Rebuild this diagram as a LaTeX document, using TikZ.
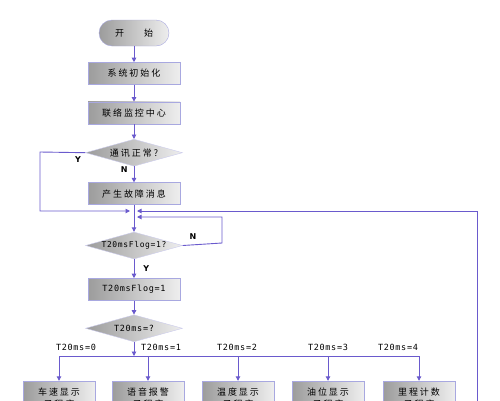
\documentclass[tikz,border=0pt]{standalone}
\usepackage{fontspec}
\setmainfont{DejaVu Sans}
\newfontfamily\cjk[LetterSpace=22]{Noto Sans CJK SC}
\newfontfamily\monof[LetterSpace=8]{DejaVu Sans Mono}
\usetikzlibrary{
  arrows.meta,
  positioning,
  shapes.geometric
}
\definecolor{flowline}{HTML}{6A5ACD}
\definecolor{boxedge}{HTML}{A8A8E0}
\definecolor{shadedark}{HTML}{9C9C9C}
\definecolor{shadelight}{HTML}{EEEEEE}
\tikzset{
  procbox/.style={
    rectangle, draw=boxedge, left color=shadedark, right color=shadelight,
    minimum width=92pt, minimum height=22pt, inner sep=0pt,
    font=\cjk\fontsize{9}{10}\selectfont
  },
  startbox/.style={
    procbox, minimum width=70pt, minimum height=26pt, rounded corners=13pt
  },
  decbox/.style={
    diamond, aspect=3.7, draw=boxedge!60, left color=shadedark, right color=shadelight,
    minimum width=97pt, minimum height=27pt, inner sep=0pt,
    font=\cjk\fontsize{9}{10}\selectfont
  },
  subbox/.style={
    procbox, minimum width=72pt, minimum height=34pt, align=center,
    font=\cjk\fontsize{9}{12}\selectfont
  },
  flowarrow/.style={
    -{Triangle[length=4.5pt,width=4.5pt]}, line width=0.9pt, color=flowline
  },
  flowplain/.style={
    line width=0.9pt, color=flowline
  },
  yn/.style={
    font=\bfseries\fontsize{8}{9}\selectfont, inner sep=1pt, text=black
  },
  caselab/.style={
    font=\monof\fontsize{8.5}{9}\selectfont, inner sep=0pt, text=black
  },
}

\begin{document}
\begin{tikzpicture}[x=1pt, y=-1pt]
  \useasboundingbox (0,0) rectangle (500,400);
  \clip (0,0) rectangle (500,400);

  \node[startbox] (start) at (134,33) {开\hspace{20pt}始};
  \node[procbox, below=16pt of start] (init) {系统初始化};
  \node[procbox, below=17pt of init] (monitor) {联络监控中心};
  \node[decbox, below=15pt of monitor] (comm) {通讯正常?};
  \node[procbox, below=16pt of comm] (fault) {产生故障消息};
  \node[decbox, below=27pt of fault] (flagq) {\monof\fontsize{8}{9}\selectfont T20msFlog=1?};
  \node[procbox, below=19pt of flagq] (flagset) {\monof\fontsize{8.5}{9}\selectfont T20msFlog=1};
  \node[decbox, below=14pt of flagset] (selq) {\monof\fontsize{8.5}{9}\selectfont T20ms=?};

  \coordinate (jn)   at (134,211);
  \coordinate (jn2)  at (134,217);
  \coordinate (bus)  at (134,356);
  \coordinate (back) at (477,420);

  \draw[flowarrow] (start) -- (init);
  \draw[flowarrow] (init) -- (monitor);
  \draw[flowarrow] (monitor) -- (comm);
  \draw[flowarrow] (comm) -- (fault)
    node[yn, pos=0.2, left=5pt] {N};
  \draw[flowarrow] (comm.west) -- (40,152) |- ([xshift=-4pt]jn);
  \node[yn] at (78,160) {Y};
  \draw[flowarrow] (fault) -- (flagq);
  \draw[flowarrow] (back) |- ([xshift=3pt]jn);
  \draw[flowarrow] (flagq.east) -- (222,243) |- ([xshift=3pt]jn2);
  \node[yn] at (193,237) {N};
  \draw[flowarrow] (flagq) -- (flagset)
    node[yn, midway, right=8pt] {Y};
  \draw[flowarrow] (flagset) -- (selq);
  \draw[flowarrow] (selq) -- (bus);
  \draw[flowplain] (59,356) -- (419,356);

  % five sub-programs
  \foreach \x/\lx/\txt [count=\i from 0] in
    {59/76/车速显示, 148/161/语音报警, 238/237/温度显示, 328/328/油位显示, 419/398/里程计数}
  {
    \node[subbox] (sub\i) at (\x,398) {\txt\\子程序};
    \draw[flowarrow] (\x,356) -- (sub\i);
    \node[caselab] at (\lx,347) {T20ms=\i};
  }
\end{tikzpicture}
\end{document}
